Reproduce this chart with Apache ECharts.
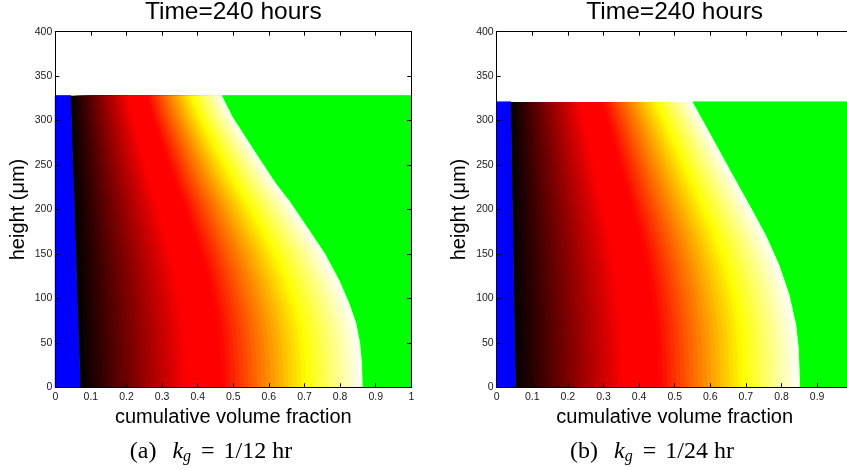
<!DOCTYPE html>
<html>
<head>
<meta charset="utf-8">
<title>Time=240 hours</title>
<script src="https://cdn.jsdelivr.net/npm/echarts@6/dist/echarts.min.js"></script>
<style>
  html, body { margin: 0; padding: 0; background: #fff; }
  #chart { width: 847px; height: 470px; }
</style>
</head>
<body>
<div id="chart"></div>
<script>
// panel (a): k_g = 1/12 hr  (edges of the coloured region)
const heightsA = [0, 27, 49, 72, 94, 120, 150, 177, 210, 229, 263, 304, 328]
const blueEdgeA = [0.071, 0.069, 0.067, 0.065, 0.063, 0.061, 0.059, 0.056, 0.054, 0.052, 0.049, 0.046, 0.044]
const greenEdgeA = [0.865, 0.863, 0.858, 0.847, 0.828, 0.800, 0.760, 0.715, 0.659, 0.622, 0.566, 0.500, 0.470]

// panel (b): k_g = 1/24 hr
const heightsB = [0, 44, 70, 104, 137, 171, 205, 246, 287, 321]
const blueEdgeB = [0.054, 0.052, 0.051, 0.049, 0.048, 0.047, 0.045, 0.043, 0.042, 0.040]
const greenEdgeB = [0.854, 0.850, 0.843, 0.824, 0.796, 0.758, 0.712, 0.655, 0.599, 0.552]

const panelTitles = ['Time=240 hours', 'Time=240 hours']
const captions = [['(a)', '1/12 hr'], ['(b)', '1/24 hr']]
const xAxisName = 'cumulative volume fraction'
const yAxisName = 'height (μm)'

// "hot" colour map, stretched a bit like the picture
const hotStops = [
  [0, [0, 0, 0]],
  [0.38, [255, 0, 0]],
  [0.5, [255, 0, 0]],
  [0.8, [255, 255, 0]],
  [1, [255, 255, 255]]
]
const BANDS = 64
const FONT = 'Liberation Sans'

const hotColor = (t) => {
  for (let i = 1; i < hotStops.length; i++) {
    const [t1, c1] = hotStops[i]
    const [t0, c0] = hotStops[i - 1]
    if (t <= t1) {
      const f = (t - t0) / (t1 - t0)
      const c = c0.map((v, j) => Math.round(v + f * (c1[j] - v)))
      return `rgb(${c[0]},${c[1]},${c[2]})`
    }
  }
  return '#fff'
}

// draws blue / hot bands / green for one panel, all through api.coord
const regionRenderer = (heights, blue, green) => (params, api) => {
  if (params.dataIndex !== 0) return
  const n = heights.length
  const top = heights[n - 1]
  const at = (x, h) => api.coord([x, h])
  const edge = (t) => heights.map((h, i) => at(blue[i] + t * (green[i] - blue[i]), h))
  const greenLine = heights.map((h, i) => at(green[i], h))
  const children = []

  children.push({
    type: 'polygon',
    shape: { points: [at(0, 0)].concat(edge(0), [at(0, top)]) },
    style: { fill: '#0000ff', stroke: '#0000ff', lineWidth: 1 }
  })
  for (let k = 0; k < BANDS; k++) {
    children.push({
      type: 'polygon',
      shape: { points: edge(k / BANDS).concat(greenLine.slice().reverse()) },
      style: { fill: hotColor((k + 0.5) / BANDS) }
    })
  }
  children.push({
    type: 'polygon',
    shape: { points: greenLine.concat([at(1, top), at(1, 0)]) },
    style: { fill: '#00ff00', stroke: '#00ff00', lineWidth: 1 }
  })
  return { type: 'group', children }
}

const grids = [
  { left: 55.3, top: 31.7, width: 356, height: 355.6, outerBoundsMode: 'none', containLabel: false },
  { left: 496.7, top: 31.7, width: 356, height: 355.6, outerBoundsMode: 'none', containLabel: false }
]

const axisCommon = {
  axisLine: { onZero: false, lineStyle: { color: '#000', width: 1 } },
  axisTick: { inside: true, length: 4, lineStyle: { color: '#000' } },
  splitLine: { show: false },
  z: 5
}

const xAxes = []
const yAxes = []
grids.forEach((g, gi) => {
  xAxes.push({
    ...axisCommon,
    type: 'value', gridIndex: gi, position: 'bottom',
    min: 0, max: 1, interval: 0.1,
    name: xAxisName, nameLocation: 'middle', nameGap: 17,
    nameTextStyle: { fontFamily: FONT, fontSize: 20, color: '#000' },
    axisLabel: { fontFamily: FONT, fontSize: 10.5, color: '#1a1a1a', margin: 4 }
  })
  xAxes.push({
    ...axisCommon,
    type: 'value', gridIndex: gi, position: 'top',
    min: 0, max: 1, interval: 0.1,
    axisLabel: { show: false }
  })
  yAxes.push({
    ...axisCommon,
    type: 'value', gridIndex: gi, position: 'left',
    min: 0, max: 400, interval: 50,
    name: yAxisName, nameLocation: 'middle', nameGap: 27,
    nameTextStyle: { fontFamily: FONT, fontSize: 20, color: '#000' },
    axisLabel: { fontFamily: FONT, fontSize: 10.5, color: '#1a1a1a', margin: 3 }
  })
  yAxes.push({
    ...axisCommon,
    type: 'value', gridIndex: gi, position: 'right',
    min: 0, max: 400, interval: 50,
    axisLabel: { show: false }
  })
})

const panelSeries = (heights, blue, green, gi) => ({
  type: 'custom',
  xAxisIndex: gi * 2,
  yAxisIndex: gi * 2,
  data: heights.map((h, i) => [blue[i], green[i], h]),
  encode: { x: [0, 1], y: 2 },
  renderItem: regionRenderer(heights, blue, green),
  silent: true,
  z: 2
})

const SERIF = 'Liberation Serif'
const captionRich = {
  rm: { fontFamily: SERIF, fontSize: 24, lineHeight: 27 },
  eq: { fontFamily: SERIF, fontSize: 24, lineHeight: 27, padding: [0, 3, 0, 4] },
  it: { fontFamily: SERIF, fontSize: 24, fontStyle: 'italic', lineHeight: 27, padding: [0, 0, 0, 16] },
  sub: { fontFamily: SERIF, fontSize: 16, fontStyle: 'italic', lineHeight: 27, padding: [10, 0, 0, 0] }
}

const chart = echarts.init(document.getElementById('chart'))
chart.setOption({
  animation: false,
  backgroundColor: '#fff',
  title: grids.map((g, gi) => ({
    text: panelTitles[gi],
    left: g.left + g.width / 2,
    top: 0,
    padding: 0,
    textAlign: 'center',
    textStyle: { fontFamily: FONT, fontSize: 24.5, fontWeight: 'normal', color: '#000' }
  })),
  grid: grids,
  xAxis: xAxes,
  yAxis: yAxes,
  series: [
    panelSeries(heightsA, blueEdgeA, greenEdgeA, 0),
    panelSeries(heightsB, blueEdgeB, greenEdgeB, 1)
  ],
  graphic: captions.map(([tag, rate], ci) => ({
    type: 'text', x: ci === 0 ? 211 : 652, y: 452,
    style: {
      text: `{rm|${tag}}{it|k}{sub|g}{eq| = }{rm|${rate}}`,
      rich: captionRich, align: 'center', verticalAlign: 'middle', fill: '#000'
    }
  }))
})
</script>
</body>
</html>
